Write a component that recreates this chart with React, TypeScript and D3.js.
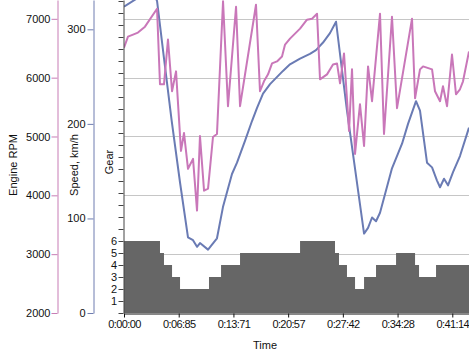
import { useEffect, useRef } from "react"
import * as d3 from "d3"

// time axis ticks (seconds) and their labels as shown
const timeTicks = [0, 6.856, 13.712, 20.568, 27.424, 34.28, 41.136]
const timeTickLabels = ["0:00:00", "0:06:85", "0:13:71", "0:20:57", "0:27:42", "0:34:28", "0:41:14"]

const rpmTicks = [2000, 3000, 4000, 5000, 6000, 7000]
const speedTicks = [0, 100, 200, 300]
const gearLabels = [1, 2, 3, 4, 5, 6]

const speedTimes = [
  0, 1.5, 2.5, 3.3, 3.7, 4.14, 5.0, 5.98, 7.02, 8.02, 8.65, 9.15, 9.52, 10.53, 11.65, 12.4, 13.53, 14.16,
  15.16, 16.04, 16.67, 17.42, 18.3, 19.92, 20.8, 22.06, 23.3, 24.06, 24.94, 25.81, 26.57, 27.94, 30.08,
  30.58, 31.08, 31.58, 32.08, 33.58, 34.84, 35.59, 36.59, 37.09, 37.97, 38.6, 39.22, 39.6, 40.1, 40.6,
  41.23, 42.1, 43.23,
]
const speedValues = [
  324, 332, 337, 340, 338, 330, 270, 203, 138, 80, 77, 70, 74, 67, 79, 112, 147, 159, 182, 203, 217, 232,
  242, 256, 263, 269, 274, 278, 286, 296, 308, 214, 84, 90, 101, 97, 106, 153, 179, 200, 224, 214, 159,
  154, 140, 133, 142, 135, 149, 166, 196,
]

const rpmTimes = [
  0, 0.5, 1.13, 1.75, 2.63, 4.14, 4.51, 5.01, 5.51, 6.02, 6.52, 7.14, 7.52, 8.02, 8.65, 9.15, 9.52, 10.03,
  10.53, 11.15, 11.65, 12.41, 13.03, 14.04, 14.54, 16.54, 17.04, 17.54, 18.05, 18.55, 19.17, 19.8, 20.18,
  20.8, 22.06, 22.93, 23.56, 24.19, 24.56, 25.44, 26.19, 26.69, 27.07, 27.57, 28.2, 28.57, 28.95, 29.57,
  30.08, 30.58, 31.08, 32.08, 32.58, 33.58, 34.21, 36.09, 36.47, 37.09, 37.47, 38.6, 38.97, 39.6, 39.97,
  40.48, 41.1, 41.6, 42.1, 42.48, 43.23,
]
const rpmValues = [
  6510, 6698, 6732, 6766, 6867, 7171, 5887, 5887, 6648, 5769, 6107, 4755, 5059, 4451, 4620, 3741, 5008,
  4079, 4113, 4991, 5042, 7300, 5515, 7205, 5515, 7239, 5769, 5938, 6056, 6242, 6276, 6360, 6563, 6664,
  6833, 6986, 7002, 7087, 5972, 6056, 6225, 6242, 5904, 6411, 5093, 6141, 4704, 5549, 4839, 6191, 5600,
  7087, 5042, 7036, 5481, 7002, 5650, 6141, 6191, 6141, 5769, 5600, 5853, 5515, 6394, 5718, 5803, 5938,
  6444,
]

// gear step starts
const gearTimes = [
  0, 4.51, 5.01, 6.02, 7.02, 10.65, 12.16, 14.54, 22.06, 26.44, 26.94, 27.94, 28.95, 30.08, 31.58, 34.09,
  36.47, 36.97, 39.1, 43.23,
]
const gearValues = [6, 5, 4, 3, 2, 3, 4, 5, 6, 5, 4, 3, 2, 3, 4, 5, 4, 3, 4, 4]

export default function App() {
  const svgRef = useRef<SVGSVGElement>(null)

  useEffect(() => {
    if (!svgRef.current) return
    const svg = d3.select(svgRef.current)
    svg.selectAll("*").remove()

    const width = 469
    const height = 354
    const left = 124
    const right = 469
    const top = 0
    const bottom = 313
    const font = "'Liberation Sans', Arial, sans-serif"

    svg.attr("width", width).attr("height", height)

    const x = d3.scaleLinear().domain([0, 43.23]).range([left, right])
    const yRpm = d3.scaleLinear().domain([2000, 7320]).range([bottom, top])
    const ySpeed = d3.scaleLinear().domain([0, 331]).range([bottom, top])
    const yGear = d3.scaleLinear().domain([0, 313 / 12]).range([bottom, top])

    svg
      .append("defs")
      .append("clipPath")
      .attr("id", "plot-clip")
      .append("rect")
      .attr("x", left)
      .attr("y", top)
      .attr("width", right - left)
      .attr("height", bottom - top)

    // gridlines from rpm ticks
    svg
      .append("g")
      .selectAll("line")
      .data(rpmTicks.slice(1))
      .enter()
      .append("line")
      .attr("x1", left)
      .attr("x2", right)
      .attr("y1", (d) => Math.round(yRpm(d)) + 0.5)
      .attr("y2", (d) => Math.round(yRpm(d)) + 0.5)
      .attr("stroke", "#c6c6c6")
      .attr("stroke-width", 1)

    const plot = svg.append("g").attr("clip-path", "url(#plot-clip)")

    // gear area
    const gearData = gearTimes.map((t, i) => ({ t, v: gearValues[i] }))
    const gearArea = d3
      .area<{ t: number; v: number }>()
      .x((d) => x(d.t))
      .y0(yGear(0))
      .y1((d) => yGear(d.v))
      .curve(d3.curveStepAfter)
    plot.append("path").datum(gearData).attr("d", gearArea).attr("fill", "#666666")

    // speed line
    const speedData = speedTimes.map((t, i) => ({ t, v: speedValues[i] }))
    plot
      .append("path")
      .datum(speedData)
      .attr(
        "d",
        d3
          .line<{ t: number; v: number }>()
          .x((d) => x(d.t))
          .y((d) => ySpeed(d.v))
      )
      .attr("fill", "none")
      .attr("stroke", "#6a7bb4")
      .attr("stroke-width", 2)
      .attr("stroke-linejoin", "round")

    // rpm line
    const rpmData = rpmTimes.map((t, i) => ({ t, v: rpmValues[i] }))
    plot
      .append("path")
      .datum(rpmData)
      .attr(
        "d",
        d3
          .line<{ t: number; v: number }>()
          .x((d) => x(d.t))
          .y((d) => yRpm(d.v))
      )
      .attr("fill", "none")
      .attr("stroke", "#c977b9")
      .attr("stroke-width", 2)
      .attr("stroke-linejoin", "round")

    const styleAxis = (g: d3.Selection<SVGGElement, unknown, null, undefined>, color: string) => {
      g.attr("font-family", font).attr("font-size", 11)
      g.select(".domain").attr("stroke", color)
      g.selectAll(".tick line").attr("stroke", color)
      g.selectAll(".tick text").attr("fill", "#111111")
    }

    // rpm axis
    const rpmAxis = svg
      .append("g")
      .attr("transform", "translate(57.5,0)")
      .call(
        d3
          .axisLeft(yRpm)
          .tickValues(rpmTicks)
          .tickFormat(d3.format("d"))
          .tickSize(6)
          .tickSizeOuter(0)
          .tickPadding(1)
      )
    styleAxis(rpmAxis, "#c77db5")

    // speed axis
    const speedAxis = svg
      .append("g")
      .attr("transform", "translate(93.5,0)")
      .call(d3.axisLeft(ySpeed).tickValues(speedTicks).tickSize(6).tickSizeOuter(0).tickPadding(2))
    styleAxis(speedAxis, "#6f7db0")

    // gear axis
    const gearAxis = svg
      .append("g")
      .attr("transform", `translate(${left - 0.5},0)`)
      .call(
        d3
          .axisLeft(yGear)
          .tickValues(d3.range(0, 27))
          .tickFormat((d) => (gearLabels.includes(d as number) ? String(d) : ""))
          .tickSize(5)
          .tickSizeOuter(0)
          .tickPadding(1.5)
      )
    styleAxis(gearAxis, "#444444")

    // time axis
    const timeAxis = svg
      .append("g")
      .attr("transform", `translate(0,${bottom + 0.5})`)
      .call(
        d3
          .axisBottom(x)
          .tickValues(timeTicks)
          .tickFormat((d, i) => timeTickLabels[i])
          .tickSize(4)
          .tickSizeOuter(0)
          .tickPadding(3)
      )
    styleAxis(timeAxis, "#111111")
    timeAxis.selectAll(".tick text").attr("letter-spacing", "-0.6px")

    // axis titles
    const titles = [
      { text: "Engine RPM", x: 13, y: 165 },
      { text: "Speed, km/h", x: 74, y: 165 },
      { text: "Gear", x: 109, y: 162 },
    ]
    titles.forEach((t) => {
      svg
        .append("text")
        .attr("transform", `translate(${t.x},${t.y}) rotate(-90)`)
        .attr("text-anchor", "middle")
        .attr("dy", "0.35em")
        .attr("font-family", font)
        .attr("font-size", 11)
        .attr("fill", "#111111")
        .text(t.text)
    })

    svg
      .append("text")
      .attr("x", 265)
      .attr("y", 349)
      .attr("text-anchor", "middle")
      .attr("font-family", font)
      .attr("font-size", 11)
      .attr("fill", "#111111")
      .text("Time")
  }, [])

  return (
    <div style={{ position: "absolute", left: 0, top: 0, background: "#ffffff" }}>
      <svg ref={svgRef} style={{ display: "block" }}></svg>
    </div>
  )
}
